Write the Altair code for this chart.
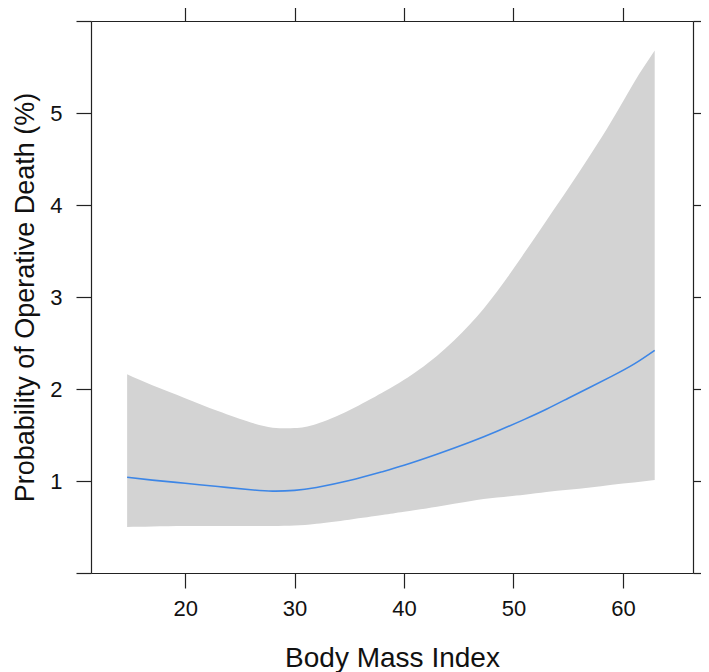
import altair as alt
import pandas as pd

bmi = [14.7, 17, 20, 23, 26, 28, 30, 32, 35, 38, 40, 43, 46, 48.5, 51, 53, 55, 57, 59, 61, 62.9]
fit = [1.04, 1.01, 0.975, 0.94, 0.905, 0.89, 0.898, 0.93, 1.005, 1.10, 1.17, 1.29, 1.42, 1.54, 1.67, 1.78, 1.90, 2.02, 2.14, 2.27, 2.42]
upper = [2.16, 2.04, 1.90, 1.76, 1.635, 1.58, 1.575, 1.62, 1.77, 1.96, 2.10, 2.36, 2.70, 3.06, 3.48, 3.83, 4.18, 4.54, 4.92, 5.33, 5.68]
lower = [0.50, 0.505, 0.51, 0.51, 0.51, 0.51, 0.515, 0.535, 0.58, 0.63, 0.665, 0.72, 0.78, 0.82, 0.85, 0.88, 0.905, 0.93, 0.96, 0.985, 1.01]

x_ticks = [20, 30, 40, 50, 60]
y_ticks = [0, 1, 2, 3, 4, 5, 6]
x_domain = [11.4, 66.4]
y_domain = [0, 6]

df = pd.DataFrame({"bmi": bmi, "fit": fit, "upper": upper, "lower": lower})

FONT = "Liberation Sans"
AX = "#222222"

xs = alt.Scale(domain=x_domain, nice=False, zero=False)
ys = alt.Scale(domain=y_domain, nice=False, zero=False)

band = alt.Chart(df).mark_area(color="#d3d3d3", opacity=1, interpolate="natural").encode(
    x=alt.X("bmi:Q", scale=xs,
            axis=alt.Axis(orient="bottom", values=x_ticks, title="Body Mass Index",
                          tickSize=15, tickColor=AX, domainColor=AX, tickWidth=1.2, domainWidth=1.2,
                          labelFontSize=22, labelFont=FONT, labelColor="#111", labelPadding=10,
                          titleFont=FONT, titleFontSize=28, titleFontWeight="normal", titleColor="#111",
                          titleX=301, titleY=93, titleBaseline="alphabetic", titleAlign="center",
                          grid=False)),
    y=alt.Y("lower:Q", scale=ys,
            axis=alt.Axis(orient="left", values=y_ticks, title="Probability of Operative Death (%)",
                          labelExpr="(datum.value == 0 || datum.value == 6) ? '' : datum.label",
                          tickSize=15, tickColor=AX, domainColor=AX, tickWidth=1.2, domainWidth=1.2,
                          labelFontSize=22, labelFont=FONT, labelColor="#111", labelPadding=14,
                          titleFont=FONT, titleFontSize=27, titleFontWeight="normal", titleColor="#111",
                          titleAngle=270, titleX=-58, titleY=276, titleBaseline="alphabetic",
                          titleAlign="center", grid=False)),
    y2="upper:Q",
)

line = alt.Chart(df).mark_line(color="#3d86e6", strokeWidth=1.6, interpolate="natural").encode(
    x=alt.X("bmi:Q", scale=xs,
            axis=alt.Axis(orient="top", values=x_ticks, title="", labels=False,
                          tickSize=15, tickColor=AX, domainColor=AX, tickWidth=1.2, domainWidth=1.2,
                          grid=False)),
    y=alt.Y("fit:Q", scale=ys,
            axis=alt.Axis(orient="right", values=y_ticks, title="", labels=False,
                          tickSize=8, tickColor=AX, domainColor=AX, tickWidth=1.2, domainWidth=1.2,
                          grid=False)),
)

chart = alt.layer(band, line).resolve_axis(x="independent", y="independent").properties(
    width=602, height=552,
    autosize=alt.AutoSizeParams(type="none"),
    padding={"left": 83, "top": 13, "right": 8, "bottom": 99},
).configure_view(stroke=None).configure(background="white")

chart.save("out.html", embed_options={"renderer": "svg", "actions": False})
